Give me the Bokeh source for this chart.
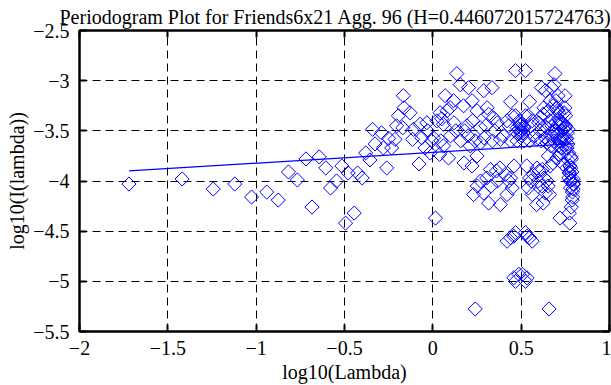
import numpy as np
from bokeh.plotting import figure
from bokeh.models import Range1d, FixedTicker, LinearAxis, Title, CustomJSTickFormatter
from bokeh.embed import file_html
from bokeh.resources import INLINE

title_text = "Periodogram Plot for Friends6x21 Agg. 96 (H=0.446072015724763)"
x_label = "log10(Lambda)"
y_label = "log10(I(lambda))"
x_ticks = [-2, -1.5, -1, -0.5, 0, 0.5, 1]
y_ticks = [-5.5, -5, -4.5, -4, -3.5, -3, -2.5]

# periodogram points, lower half of frequencies (log10 lambda < log10 pi)
low_x = [-1.72, -1.419, -1.243, -1.121, -1.026, -0.94, -0.875, -0.817, -0.767, -0.718,
         -0.684, -0.643, -0.606, -0.579, -0.545, -0.515, -0.494, -0.479, -0.445, -0.426,
         -0.40, -0.38, -0.356, -0.341, -0.327, -0.29, -0.28, -0.261, -0.25, -0.233,
         -0.214, -0.205, -0.195, -0.167, -0.17, -0.163, -0.129, -0.11, -0.115, -0.078,
         -0.072, -0.063, -0.044, -0.034, -0.03, -0.015, -0.006, 0.004, 0.015, 0.023,
         0.041, 0.045, 0.038, 0.06, 0.07, 0.08, 0.089, 0.098, 0.10, 0.117,
         0.12, 0.136, 0.155, 0.158, 0.174, 0.177, 0.193, 0.202, 0.212, 0.222,
         0.225, 0.222, 0.231, 0.24, 0.25, 0.252, 0.269, 0.288, 0.29, 0.288,
         0.307, 0.305, 0.316, 0.316, 0.326, 0.335, 0.337, 0.344, 0.364, 0.366,
         0.382, 0.38, 0.382, 0.41, 0.42, 0.42, 0.42, 0.44, 0.44, 0.44,
         0.44, 0.449, 0.458, 0.458, 0.468, 0.468, 0.468, 0.468, 0.477, 0.477,
         0.487, 0.487, 0.493, 0.497, 0.482, 0.49,
         0.05, 0.13, 0.18, 0.25, 0.27, 0.30, 0.35, 0.40, 0.43, 0.45,
         0.36, 0.43, 0.27, 0.33, 0.46, 0.20, 0.06, 0.24]
low_y = [-4.03, -3.98, -4.08, -4.03, -4.16, -4.11, -4.19, -3.91, -3.99, -3.78,
         -4.26, -3.76, -3.87, -4.07, -4.00, -3.85, -4.42, -3.92, -4.32, -3.92,
         -3.97, -3.72, -3.79, -3.485, -3.63, -3.52, -3.67, -3.87, -3.575, -3.67,
         -3.585, -3.45, -3.35, -3.15, -3.47, -3.27, -3.32, -3.485, -3.585, -3.83,
         -3.435, -3.57, -3.67, -3.42, -3.50, -3.72, -3.60, -3.57, -4.37, -3.40,
         -3.32, -3.60, -3.735, -3.435, -3.15, -3.30, -3.77, -3.27, -3.55, -3.20,
         -3.42, -2.93, -3.04, -3.60, -3.25, -3.82, -3.45, -3.07, -3.65, -3.20,
         -3.40, -3.85, -4.135, -5.275, -3.75, -4.05, -3.47, -3.10, -3.57, -4.12,
         -3.27, -3.97, -3.335, -4.22, -3.885, -3.07, -3.60, -3.37, -3.42, -4.00,
         -3.585, -3.87, -4.235, -3.935, -3.40, -4.135, -4.60, -3.21, -3.60, -3.97,
         -4.565, -4.07, -4.965, -4.55, -2.90, -3.35, -4.515, -5.00, -3.47, -3.60,
         -4.93, -3.485, -3.44, -3.52, -3.53, -3.40,
         -3.38, -3.50, -3.50, -3.30, -3.62, -3.45, -3.50, -3.55, -3.45, -3.35,
         -3.90, -4.00, -4.00, -4.05, -3.85, -3.55, -3.65, -3.60]

# upper half of frequencies (log10 lambda > log10 pi)
high_x = [0.7969, 0.7955, 0.7942, 0.7929, 0.7916, 0.7902, 0.7889, 0.7875, 0.7862, 0.7847,
          0.7836, 0.7822, 0.7807, 0.7795, 0.778, 0.7765, 0.7754, 0.7746, 0.7726, 0.7714,
          0.7697, 0.7683, 0.7666, 0.7655, 0.7643, 0.7612, 0.7603, 0.7585, 0.7575, 0.7557,
          0.7537, 0.7528, 0.7517, 0.7484, 0.7487, 0.7479, 0.7435, 0.7409, 0.7416, 0.7361,
          0.7353, 0.7338, 0.7307, 0.729, 0.7284, 0.7257, 0.724, 0.7221, 0.72, 0.7184,
          0.7146, 0.7138, 0.7153, 0.7105, 0.7082, 0.706, 0.7038, 0.7016, 0.7011, 0.6967,
          0.6959, 0.6915, 0.6861, 0.6852, 0.6803, 0.6794, 0.6742, 0.6713, 0.6678, 0.6643,
          0.6631, 0.6643, 0.661, 0.6576, 0.6537, 0.6529, 0.6459, 0.6377, 0.6368, 0.6377,
          0.6289, 0.6299, 0.6246, 0.6246, 0.6196, 0.6149, 0.6138, 0.6101, 0.5989, 0.5977,
          0.588, 0.5893, 0.588, 0.5697, 0.5627, 0.5627, 0.5627, 0.5477, 0.5477, 0.5477,
          0.5477, 0.5404, 0.533, 0.533, 0.5244, 0.5244, 0.5244, 0.5244, 0.5163, 0.5163,
          0.507, 0.507, 0.501, 0.51, 0.513, 0.504,
          0.7127, 0.6932, 0.6784, 0.6537, 0.6455, 0.6323, 0.6068, 0.5765, 0.5552, 0.5397,
          0.6012, 0.5552, 0.6455, 0.6175, 0.5314, 0.6719, 0.7105, 0.6576]
high_y = [-4.03, -3.98, -4.08, -4.03, -4.16, -4.11, -4.19, -3.91, -3.99, -3.78,
          -4.26, -3.76, -3.87, -4.07, -4.00, -3.85, -4.42, -3.92, -4.32, -3.92,
          -3.97, -3.72, -3.79, -3.485, -3.63, -3.52, -3.67, -3.87, -3.575, -3.67,
          -3.585, -3.45, -3.35, -3.15, -3.47, -3.27, -3.32, -3.485, -3.585, -3.83,
          -3.435, -3.57, -3.67, -3.42, -3.50, -3.72, -3.60, -3.57, -4.37, -3.40,
          -3.32, -3.60, -3.735, -3.435, -3.15, -3.30, -3.77, -3.27, -3.55, -3.20,
          -3.42, -2.93, -3.04, -3.60, -3.25, -3.82, -3.45, -3.07, -3.65, -3.20,
          -3.40, -3.85, -4.135, -5.275, -3.75, -4.05, -3.47, -3.10, -3.57, -4.12,
          -3.27, -3.97, -3.335, -4.22, -3.885, -3.07, -3.60, -3.37, -3.42, -4.00,
          -3.585, -3.87, -4.235, -3.935, -3.40, -4.135, -4.60, -3.21, -3.60, -3.97,
          -4.565, -4.07, -4.965, -4.55, -2.90, -3.35, -4.515, -5.00, -3.47, -3.60,
          -4.93, -3.485, -3.44, -3.52, -3.46, -3.55,
          -3.38, -3.50, -3.50, -3.30, -3.62, -3.45, -3.50, -3.55, -3.45, -3.35,
          -3.90, -4.00, -4.00, -4.05, -3.85, -3.55, -3.65, -3.60]

# least squares fit line
fit_x = [-1.72, 0.797]
fit_y = [-3.90, -3.628]

FONT = "Liberation Serif"
BLUE = "#0000ff"

p = figure(width=611, height=385,
           x_range=Range1d(-2, 1), y_range=Range1d(-5.5, -2.5),
           output_backend="svg", toolbar_location=None,
           min_border_left=74, min_border_right=2,
           min_border_top=30, min_border_bottom=54)
p.background_fill_color = "white"
p.border_fill_color = "white"
p.outline_line_color = "black"
p.outline_line_width = 2

p.title.text = title_text
p.title.align = "left"
p.title.offset = -20
p.title.standoff = 6
p.title.text_font = FONT
p.title.text_font_size = "20px"
p.title.text_font_style = "normal"
p.title.text_color = "black"

fmt = CustomJSTickFormatter(code="return tick < 0 ? '\u2212' + Math.abs(tick) : String(tick);")
blank = CustomJSTickFormatter(code="return '';")

for ax, ticks in ((p.xaxis[0], x_ticks), (p.yaxis[0], y_ticks)):
    ax.ticker = FixedTicker(ticks=ticks)
    ax.formatter = fmt
    ax.axis_line_color = "black"
    ax.axis_line_width = 2
    ax.major_tick_in = 7
    ax.major_tick_out = 0
    ax.major_tick_line_width = 2
    ax.major_tick_line_color = "black"
    ax.minor_tick_line_color = None
    ax.major_label_text_font = FONT
    ax.major_label_text_font_size = "20px"
    ax.major_label_text_color = "black"
p.xaxis[0].major_label_standoff = 9
p.yaxis[0].major_label_standoff = 10

# mirrored ticks on the top and right borders
for loc, ticks in (("above", x_ticks), ("right", y_ticks)):
    ax = LinearAxis(ticker=FixedTicker(ticks=ticks), formatter=blank,
                    major_tick_in=7, major_tick_out=0,
                    major_tick_line_width=2, major_tick_line_color="black",
                    minor_tick_line_color=None, axis_line_color="black", axis_line_width=2,
                    major_label_text_font_size="1px", major_label_standoff=0)
    p.add_layout(ax, loc)

# axis labels, placed outside the tick labels
p.add_layout(Title(text=x_label, align="center", standoff=3,
                   text_font=FONT, text_font_size="20px", text_font_style="normal",
                   text_color="black"), "below")
p.add_layout(Title(text=y_label, align="center", standoff=6,
                   text_font=FONT, text_font_size="20px", text_font_style="normal",
                   text_color="black"), "left")

p.xgrid.ticker = FixedTicker(ticks=x_ticks)
p.ygrid.ticker = FixedTicker(ticks=y_ticks)
for g in (p.xgrid, p.ygrid):
    g.grid_line_color = "black"
    g.grid_line_dash = "8 5"
    g.grid_line_width = 1

p.scatter(low_x, low_y, marker="square", size=10, angle=np.pi / 4,
          fill_color=None, line_color=BLUE, line_width=1)
p.scatter(high_x, high_y, marker="square", size=10, angle=np.pi / 4,
          fill_color=None, line_color=BLUE, line_width=1)
p.line(fit_x, fit_y, line_color=BLUE, line_width=1.3)

open("out.html", "w").write(file_html(p, INLINE))
